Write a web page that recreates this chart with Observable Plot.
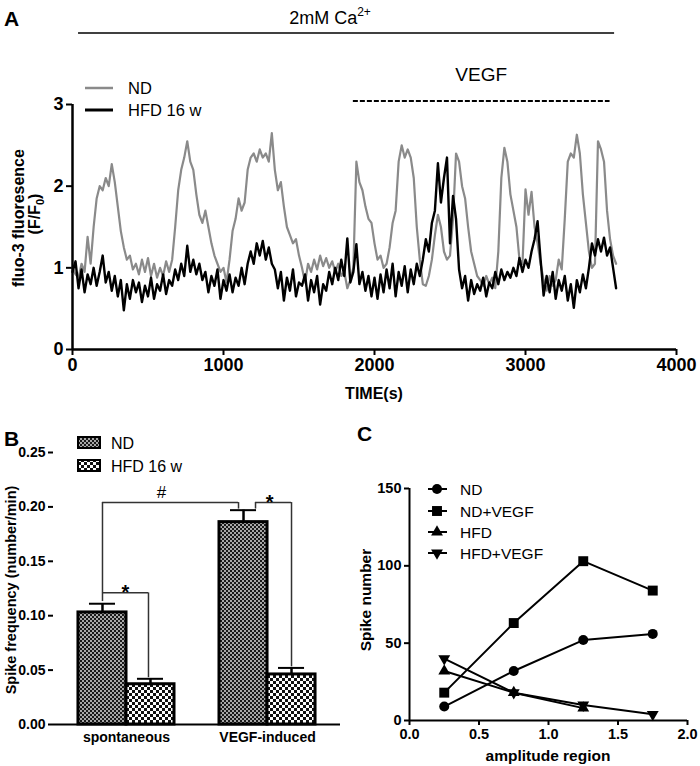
<!DOCTYPE html>
<html><head><meta charset="utf-8">
<script src="https://cdn.jsdelivr.net/npm/d3@7"></script>
<script src="https://cdn.jsdelivr.net/npm/@observablehq/plot@0.6"></script>
<style>
body{margin:0;background:#fff}
#fig{position:relative;width:700px;height:766px;background:#fff;overflow:hidden}
#fig svg{position:absolute;left:0;top:0}
#fig g[aria-label$="tick"]{stroke-width:2}
</style></head><body><div id="fig"></div>
<script>
// ---------- Panel A data: fluo-3 traces sampled every 20 s (0..3600 s) ----------
const SAMPLE_STEP_S = 20;
const A_ND = [
 1.0, 0.92, 0.88, 1.05, 0.95, 1.38, 1.05, 1.5, 1.85, 2.0,
 1.95, 2.1, 2.0, 2.27, 2.05, 1.75, 1.45, 1.25, 1.1, 1.15,
 0.98, 1.05, 0.92, 1.1, 0.95, 1.12, 0.9, 1.05, 0.88, 1.0,
 0.9, 1.08, 0.95, 1.1, 1.5, 1.95, 2.2, 2.35, 2.55, 2.3,
 2.2, 1.9, 1.65, 1.55, 1.7, 1.5, 1.3, 1.15, 1.05, 0.95,
 1.0, 0.82, 1.1, 1.45, 1.6, 1.85, 1.7, 1.8, 2.2, 2.35,
 2.4, 2.3, 2.45, 2.35, 2.4, 2.3, 2.65, 2.2, 1.95, 2.05,
 1.75, 1.5, 1.4, 1.3, 1.35, 1.15, 1.0, 0.82, 1.05, 0.95,
 1.1, 0.98, 1.15, 1.02, 1.12, 1.0, 1.08, 0.95, 1.05, 0.9,
 0.95, 0.75, 0.85, 1.0, 2.3, 2.05, 1.95, 1.75, 1.6, 1.55,
 1.3, 1.1, 1.15, 1.0, 1.05, 1.25, 1.55, 1.7, 2.3, 2.5,
 2.35, 2.45, 2.35, 2.1, 1.5, 1.1, 0.8, 0.78, 0.9, 1.1,
 1.4, 1.65, 1.5, 1.2, 1.1, 1.15, 1.6, 2.4, 2.3, 2.0,
 1.85, 1.5, 1.2, 1.05, 0.9, 0.85, 0.78, 0.9, 0.8, 0.88,
 0.75, 1.2, 2.1, 2.47, 2.3, 1.9, 1.7, 1.5, 1.1, 1.05,
 1.96, 1.65, 1.93, 1.5, 1.3, 1.05, 0.85, 0.72, 0.9, 0.78,
 0.85, 1.1, 0.98, 1.6, 2.3, 2.4, 2.35, 2.63, 2.4, 1.9,
 1.55, 1.2, 1.0, 1.05, 2.55, 2.45, 2.3, 1.7, 1.35, 1.15,
 1.05
];
const A_HFD = [
 0.95, 1.08, 0.75, 0.98, 0.7, 0.92, 0.8, 1.0, 0.78, 0.95,
 1.15, 0.82, 0.95, 0.72, 0.9, 0.65, 0.85, 0.48, 0.8, 0.62,
 0.85, 0.7, 0.82, 0.58, 0.78, 0.65, 0.88, 0.62, 0.8, 0.72,
 0.92, 0.68, 0.85, 0.78, 0.98, 0.85, 1.05, 0.9, 1.27, 0.95,
 1.1, 0.92, 1.05, 0.85, 0.95, 0.7, 0.9, 0.78, 0.98, 0.62,
 0.85, 0.72, 0.92, 0.7, 0.88, 0.78, 1.0, 0.8, 1.05, 1.2,
 1.05, 1.3, 1.15, 1.33, 1.1, 1.25, 1.05, 0.98, 0.75, 0.95,
 0.6, 0.88, 0.72, 0.98, 0.65, 0.82, 0.78, 0.92, 0.6, 0.85,
 0.7, 0.9, 0.55, 0.8, 0.72, 0.95, 0.8, 1.0, 0.85, 1.1,
 0.9, 1.36, 0.82, 0.95, 1.29, 0.8, 0.95, 0.72, 0.9, 0.65,
 0.88, 0.62, 0.92, 0.7, 0.98, 0.75, 1.05, 0.65, 0.95, 0.78,
 1.02, 0.7, 0.98, 0.8, 1.05, 0.9, 1.1, 1.35, 1.2, 1.55,
 1.7, 2.28, 1.8, 2.1, 2.35, 1.3, 1.88, 1.6, 0.98, 0.75,
 0.9, 0.6, 0.85, 0.68, 0.8, 0.72, 0.88, 0.65, 0.82, 0.75,
 0.95, 0.8, 0.98, 0.85, 0.95, 0.88, 1.0, 0.9, 1.12, 0.95,
 1.1, 1.0, 1.2, 1.35, 1.57, 1.1, 0.66, 0.9, 0.7, 0.95,
 0.62, 0.85, 0.72, 0.9, 0.6, 0.8, 0.51, 0.85, 0.7, 0.92,
 0.75, 1.0, 1.3, 1.15, 1.35, 1.2, 1.37, 1.15, 1.25, 1.0,
 0.75
];
const A_XTICKS = [0, 1000, 2000, 3000, 4000];
const A_YTICKS = [0, 1, 2, 3];
const A_SERIES = ["ND", "HFD 16 w"];
const A_PERIODS = [{label: "2mM Ca", start: 40, end: 3590}, {label: "VEGF", start: 1860, end: 3560}];

// ---------- Panel B data ----------
const B_CONDITIONS = ["spontaneous", "VEGF-induced"];
const B_SERIES = ["ND", "HFD 16 w"];
const B_ND_MEAN = [0.103, 0.186];
const B_ND_SEM = [0.008, 0.011];
const B_HFD_MEAN = [0.037, 0.046];
const B_HFD_SEM = [0.005, 0.006];
const B_YTICKS = [0, 0.05, 0.10, 0.15, 0.20, 0.25];

// ---------- Panel C data ----------
const C_AMPLITUDE = [0.25, 0.75, 1.25, 1.75];
const C_SERIES = ["ND", "ND+VEGF", "HFD", "HFD+VEGF"];
const C_ND = [9, 32, 52, 56];
const C_ND_VEGF = [18, 63, 103, 84];
const C_HFD = [32, 18, 8, null];
const C_HFD_VEGF = [40, 18, 10, 4];
const C_XTICKS = [0, 0.5, 1.0, 1.5, 2.0];
const C_YTICKS = [0, 50, 100, 150];

// ---------- helpers ----------
const FONT = "'Liberation Sans', Arial, Helvetica, sans-serif";
const fig = document.getElementById("fig");
const baseStyle = (size) => `background:transparent;position:absolute;left:0;top:0;overflow:visible;font-family:${FONT};font-weight:bold;font-size:${size}px;`;
function addText(svg, x, y, str, size, weight = "normal", anchor = "start", rotate = 0) {
  return d3.select(svg).append("text")
    .attr("transform", `translate(${x},${y})` + (rotate ? ` rotate(${rotate})` : ""))
    .attr("text-anchor", anchor).attr("fill", "#000")
    .style("font-family", FONT).style("font-size", size + "px").style("font-weight", weight)
    .text(str);
}

// ================= Panel A =================
const aND = A_ND.map((v, i) => ({t: i * SAMPLE_STEP_S, v}));
const aHFD = A_HFD.map((v, i) => ({t: i * SAMPLE_STEP_S, v}));
const plotA = Plot.plot({
  width: 700, height: 766,
  marginLeft: 72, marginRight: 24, marginTop: 104, marginBottom: 417,
  style: baseStyle(18),
  x: {domain: [0, 4000], ticks: A_XTICKS, tickFormat: d3.format("d"), tickSize: 6, tickPadding: 3, label: null},
  y: {domain: [0, 3], ticks: A_YTICKS, tickFormat: d3.format("d"), tickSize: 6, tickPadding: 3, label: null},
  marks: [
    Plot.line(aND, {x: "t", y: "v", stroke: "#8a8a8a", strokeWidth: 2.2}),
    Plot.line(aHFD, {x: "t", y: "v", stroke: "#000", strokeWidth: 2.4}),
    Plot.ruleX([0], {strokeWidth: 2.5}),
    Plot.ruleY([0], {strokeWidth: 2.5})
  ]
});
fig.appendChild(plotA);
{
  const sA = d3.select(plotA), xA = plotA.scale("x");
  addText(plotA, 4, 26, "A", 21, "bold");
  const ca = addText(plotA, 330, 24, "", 18, "normal", "middle");
  ca.append("tspan").text(A_PERIODS[0].label);
  ca.append("tspan").attr("dy", -8).style("font-size", "12px").text("2+");
  sA.append("line").attr("x1", xA.apply(A_PERIODS[0].start)).attr("x2", xA.apply(A_PERIODS[0].end))
    .attr("y1", 33).attr("y2", 33).attr("stroke", "#000").attr("stroke-width", 1.5);
  addText(plotA, (xA.apply(A_PERIODS[1].start) + xA.apply(A_PERIODS[1].end)) / 2, 81, A_PERIODS[1].label, 19, "normal", "middle");
  sA.append("line").attr("x1", xA.apply(A_PERIODS[1].start)).attr("x2", xA.apply(A_PERIODS[1].end))
    .attr("y1", 101).attr("y2", 101).attr("stroke", "#000").attr("stroke-width", 2).attr("stroke-dasharray", "5,2");
  // legend
  sA.append("line").attr("x1", 85).attr("x2", 113).attr("y1", 88).attr("y2", 88).attr("stroke", "#8a8a8a").attr("stroke-width", 2.5);
  sA.append("line").attr("x1", 85).attr("x2", 113).attr("y1", 110).attr("y2", 110).attr("stroke", "#000").attr("stroke-width", 3);
  addText(plotA, 128, 94, A_SERIES[0], 16.5);
  addText(plotA, 128, 116, A_SERIES[1], 16.5);
  // axis titles
  addText(plotA, 24, 218, "fluo-3 fluoresence", 16, "bold", "middle", -90);
  const yt = addText(plotA, 40, 214, "", 16, "bold", "middle", -90);
  yt.append("tspan").text("(F/F");
  yt.append("tspan").attr("dy", 4).style("font-size", "11px").text("0");
  yt.append("tspan").attr("dy", -4).text(")");
  addText(plotA, 374, 399, "TIME(s)", 16, "bold", "middle");
}

// ================= Panel B =================
const bND = B_CONDITIONS.map((c, i) => ({cond: c, mean: B_ND_MEAN[i], top: B_ND_MEAN[i] + B_ND_SEM[i]}));
const bHFD = B_CONDITIONS.map((c, i) => ({cond: c, mean: B_HFD_MEAN[i], top: B_HFD_MEAN[i] + B_HFD_SEM[i]}));
const B_LINE = {stroke: "#333", strokeWidth: 1.5};
const plotB = Plot.plot({
  width: 700, height: 766,
  marginLeft: 53, marginRight: 360, marginTop: 452, marginBottom: 42,
  style: baseStyle(14),
  x: {domain: B_CONDITIONS, paddingInner: 0.319, paddingOuter: 0.177, round: false, tickSize: 0, tickPadding: 8, label: null},
  y: {domain: [0, 0.25], ticks: B_YTICKS, tickFormat: ".2f", tickSize: 5, tickPadding: 3, label: null},
  marks: [
    // significance brackets
    Plot.ruleX([{c: B_CONDITIONS[0], y1: 0.113, y2: 0.204}], {x: "c", y1: "y1", y2: "y2", dx: -24, ...B_LINE}),
    Plot.ruleY([{a: B_CONDITIONS[0], b: B_CONDITIONS[1], y: 0.204}], {x1: "a", x2: "b", y: "y", insetLeft: 24, insetRight: 77, ...B_LINE}),
    Plot.ruleX([{c: B_CONDITIONS[1], y1: 0.198, y2: 0.204}], {x: "c", y1: "y1", y2: "y2", dx: -29, ...B_LINE}),
    Plot.ruleY([{a: B_CONDITIONS[1], y: 0.204}], {x1: "a", x2: "a", y: "y", insetLeft: 36, insetRight: 24, ...B_LINE}),
    Plot.ruleX([{c: B_CONDITIONS[1], y1: 0.198, y2: 0.204}], {x: "c", y1: "y1", y2: "y2", dx: -12, ...B_LINE}),
    Plot.ruleX([{c: B_CONDITIONS[1], y1: 0.053, y2: 0.204}], {x: "c", y1: "y1", y2: "y2", dx: 24, ...B_LINE}),
    Plot.ruleY([{a: B_CONDITIONS[0], y: 0.121}], {x1: "a", x2: "a", y: "y", insetLeft: 24, insetRight: 26, ...B_LINE}),
    Plot.ruleX([{c: B_CONDITIONS[0], y1: 0.043, y2: 0.121}], {x: "c", y1: "y1", y2: "y2", dx: 22, ...B_LINE}),
    Plot.text([{c: B_CONDITIONS[0], y: 0.204}], {x: "c", y: "y", text: () => "#", dx: 35, dy: -10, fontSize: 17, fontWeight: "normal"}),
    Plot.text([{c: B_CONDITIONS[0], y: 0.121}], {x: "c", y: "y", text: () => "*", dx: -1, dy: 0, fontSize: 20, fontWeight: "bold"}),
    Plot.text([{c: B_CONDITIONS[1], y: 0.204}], {x: "c", y: "y", text: () => "*", dx: 2, dy: 0, fontSize: 20, fontWeight: "bold"}),
    // error bars
    Plot.ruleX(bND, {x: "cond", y1: "mean", y2: "top", dx: -24, strokeWidth: 2.5}),
    Plot.tickY(bND, {x: "cond", y: "top", insetLeft: 11, insetRight: 59, strokeWidth: 2.5}),
    Plot.ruleX(bHFD, {x: "cond", y1: "mean", y2: "top", dx: 24, strokeWidth: 2.5}),
    Plot.tickY(bHFD, {x: "cond", y: "top", insetLeft: 59, insetRight: 11, strokeWidth: 2.5}),
    // bars
    Plot.barY(bND, {x: "cond", y: "mean", fill: "url(#patND)", stroke: "#000", strokeWidth: 3, insetRight: 48}),
    Plot.barY(bHFD, {x: "cond", y: "mean", fill: "url(#patHFD)", stroke: "#000", strokeWidth: 3, insetLeft: 48}),
    Plot.ruleX([0], {strokeWidth: 2}),
    Plot.ruleY([0], {strokeWidth: 2})
  ]
});
fig.appendChild(plotB);
{
  const sB = d3.select(plotB);
  const defs = sB.insert("defs", ":first-child");
  const p1 = defs.append("pattern").attr("id", "patND").attr("width", 4).attr("height", 4).attr("patternUnits", "userSpaceOnUse");
  p1.append("rect").attr("width", 4).attr("height", 4).attr("fill", "#a8a8a8");
  p1.append("rect").attr("width", 2).attr("height", 2).attr("fill", "#1a1a1a");
  p1.append("rect").attr("x", 2).attr("y", 2).attr("width", 2).attr("height", 2).attr("fill", "#1a1a1a");
  const p2 = defs.append("pattern").attr("id", "patHFD").attr("width", 6).attr("height", 6).attr("patternUnits", "userSpaceOnUse");
  p2.append("rect").attr("width", 6).attr("height", 6).attr("fill", "#fff");
  p2.append("rect").attr("width", 3).attr("height", 3).attr("fill", "#111");
  p2.append("rect").attr("x", 3).attr("y", 3).attr("width", 3).attr("height", 3).attr("fill", "#111");
  addText(plotB, 4, 446, "B", 21, "bold");
  sB.append("rect").attr("x", 78).attr("y", 437).attr("width", 22).attr("height", 11).attr("fill", "url(#patND)").attr("stroke", "#000").attr("stroke-width", 2);
  sB.append("rect").attr("x", 78).attr("y", 460).attr("width", 22).attr("height", 11).attr("fill", "url(#patHFD)").attr("stroke", "#000").attr("stroke-width", 2);
  addText(plotB, 111, 449, B_SERIES[0], 16);
  addText(plotB, 111, 472, B_SERIES[1], 16);
  addText(plotB, 16, 590, "Spike frequency (number/min)", 14.5, "bold", "middle", -90);
}

// ================= Panel C =================
const triangleDown = {
  draw(ctx, size) {
    const s3 = Math.sqrt(3), y = -Math.sqrt(size / (s3 * 3));
    ctx.moveTo(0, -y * 2); ctx.lineTo(-s3 * y, y); ctx.lineTo(s3 * y, y); ctx.closePath();
  }
};
const C_VALUES = [C_ND, C_ND_VEGF, C_HFD, C_HFD_VEGF];
const C_SYMBOLS = ["circle", "square", "triangle", triangleDown];
const C_R = [5, 5.6, 4.4, 4.4];
const cMarks = [];
C_SERIES.forEach((name, k) => {
  const rows = C_AMPLITUDE.map((a, i) => ({a, n: C_VALUES[k][i]})).filter(d => d.n != null);
  cMarks.push(Plot.line(rows, {x: "a", y: "n", stroke: "#000", strokeWidth: 2}));
  cMarks.push(Plot.dot(rows, {x: "a", y: "n", symbol: C_SYMBOLS[k], r: C_R[k], fill: "#000", stroke: "none"}));
});
const plotC = Plot.plot({
  width: 700, height: 766,
  marginLeft: 409, marginRight: 13, marginTop: 488, marginBottom: 46,
  style: baseStyle(14.5),
  x: {domain: [0, 2], ticks: C_XTICKS, tickFormat: ".1f", tickSize: 5, tickPadding: 3, label: null},
  y: {domain: [0, 150], ticks: C_YTICKS, tickSize: 5, tickPadding: 3, label: null},
  marks: [...cMarks, Plot.ruleX([0], {strokeWidth: 2}), Plot.ruleY([0], {strokeWidth: 2})]
});
fig.appendChild(plotC);
{
  const sC = d3.select(plotC);
  addText(plotC, 357, 441, "C", 21, "bold");
  const rowsY = [489, 511, 532, 553];
  const sizes = C_R.map(r => Math.PI * r * r);
  C_SERIES.forEach((name, k) => {
    sC.append("line").attr("x1", 428).attr("x2", 447).attr("y1", rowsY[k]).attr("y2", rowsY[k]).attr("stroke", "#000").attr("stroke-width", 2);
    const type = typeof C_SYMBOLS[k] === "string" ? {circle: d3.symbolCircle, square: d3.symbolSquare, triangle: d3.symbolTriangle}[C_SYMBOLS[k]] : C_SYMBOLS[k];
    sC.append("path").attr("d", d3.symbol(type, sizes[k])()).attr("transform", `translate(437,${rowsY[k]})`).attr("fill", "#000");
    addText(plotC, 460, rowsY[k] + 5.5, name, 15.5);
  });
  addText(plotC, 371, 600, "Spike number", 15.5, "bold", "middle", -90);
  addText(plotC, 548, 761, "amplitude region", 15.5, "bold", "middle");
}
</script></body></html>
